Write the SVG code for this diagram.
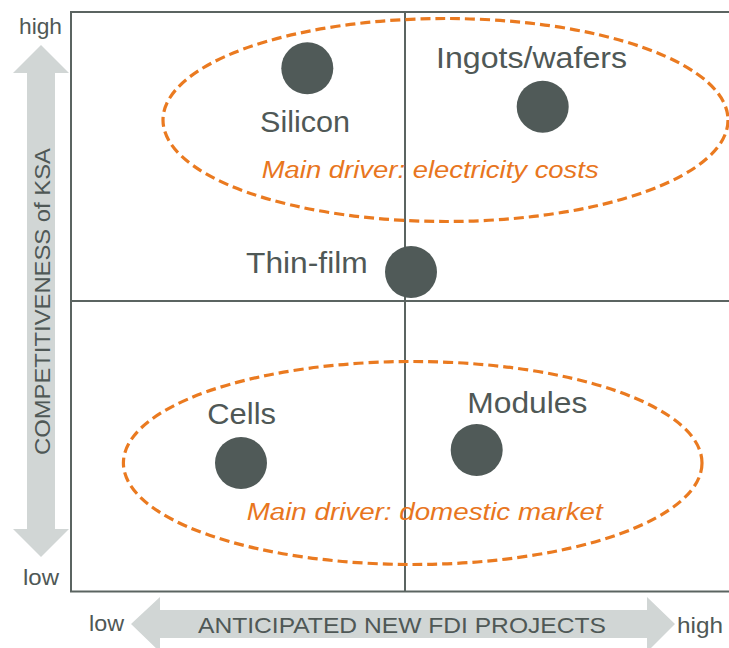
<svg xmlns="http://www.w3.org/2000/svg" width="729" height="648" viewBox="0 0 729 648">
  <style>
    .axis-arrow { fill: #d1d6d5; }
    .frame { fill: none; stroke: #5b6461; stroke-width: 2; }
    .grid { stroke: #5b6461; stroke-width: 2; }
    .dot { fill: #505a58; }
    .label { font-family: "Liberation Sans", Arial, sans-serif; font-size: 30px; fill: #4f5856; }
    .axis-text { font-family: "Liberation Sans", Arial, sans-serif; font-size: 22px; fill: #4f5856; }
    .driver { font-family: "Liberation Sans", Arial, sans-serif; font-size: 23px; font-style: italic; fill: #e8761e; }
    .cluster { fill: none; stroke: #ea7a20; stroke-width: 3.2; stroke-dasharray: 10 5; }
  </style>

  <rect width="729" height="648" fill="#ffffff"/>

  <!-- axis arrows -->
  <g id="axes">
    <polygon class="axis-arrow" points="41,45 69,73 55,73 55,529 69,529 41,557 13,529 27,529 27,73 13,73"/>
    <polygon class="axis-arrow" points="131,624 160,597 160,610 647,610 647,597 675,624 647,652 647,638 160,638 160,652"/>
    <text class="axis-text" x="19" y="34" textLength="43" lengthAdjust="spacingAndGlyphs">high</text>
    <text class="axis-text" x="23" y="585" textLength="36" lengthAdjust="spacingAndGlyphs">low</text>
    <text class="axis-text" x="89" y="631" textLength="35" lengthAdjust="spacingAndGlyphs">low</text>
    <text class="axis-text" x="677" y="633" textLength="46" lengthAdjust="spacingAndGlyphs">high</text>
    <text class="axis-text" x="198" y="633" font-size="23" textLength="408" lengthAdjust="spacingAndGlyphs">ANTICIPATED NEW FDI PROJECTS</text>
    <text class="axis-text" transform="translate(50,455) rotate(-90)" x="0" y="0" font-size="23" textLength="307" lengthAdjust="spacingAndGlyphs">COMPETITIVENESS of KSA</text>
  </g>

  <!-- quadrant frame -->
  <g id="frame">
    <rect class="frame" x="71" y="12" width="700" height="579.5"/>
    <line class="grid" x1="405" y1="12" x2="405" y2="591.5"/>
    <line class="grid" x1="71" y1="301" x2="729" y2="301"/>
  </g>

  <!-- clusters -->
  <g id="cluster-electricity">
    <ellipse class="cluster" cx="445.5" cy="120" rx="282.5" ry="101.5"/>
    <text class="driver" x="261.7" y="178" textLength="337" lengthAdjust="spacingAndGlyphs">Main driver: electricity costs</text>
  </g>
  <g id="cluster-domestic">
    <ellipse class="cluster" cx="412.7" cy="463" rx="289.3" ry="101.5"/>
    <text class="driver" x="246.7" y="520" textLength="356" lengthAdjust="spacingAndGlyphs">Main driver: domestic market</text>
  </g>

  <!-- value-chain segments -->
  <g id="silicon">
    <circle class="dot" cx="307.3" cy="68.3" r="26"/>
    <text class="label" x="260" y="131.5" textLength="90" lengthAdjust="spacingAndGlyphs">Silicon</text>
  </g>
  <g id="ingots-wafers">
    <circle class="dot" cx="542.7" cy="106.7" r="26"/>
    <text class="label" x="436" y="68.3" textLength="191" lengthAdjust="spacingAndGlyphs">Ingots/wafers</text>
  </g>
  <g id="thin-film">
    <circle class="dot" cx="411" cy="272" r="26"/>
    <text class="label" x="246" y="273.3" textLength="121.7" lengthAdjust="spacingAndGlyphs">Thin-film</text>
  </g>
  <g id="cells">
    <circle class="dot" cx="241" cy="463" r="26"/>
    <text class="label" x="207.3" y="424.3" textLength="68.7" lengthAdjust="spacingAndGlyphs">Cells</text>
  </g>
  <g id="modules">
    <circle class="dot" cx="476.7" cy="450" r="26"/>
    <text class="label" x="467.3" y="413.3" textLength="120" lengthAdjust="spacingAndGlyphs">Modules</text>
  </g>

  <!-- connectors: none drawn -->
  <g id="connectors"/>
</svg>
